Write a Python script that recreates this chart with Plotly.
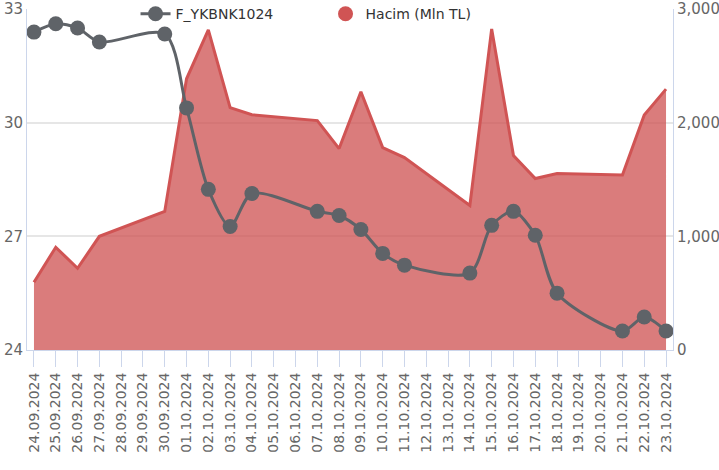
import plotly.graph_objects as go

dates = ["24.09.2024", "25.09.2024", "26.09.2024", "27.09.2024", "28.09.2024", "29.09.2024",
         "30.09.2024", "01.10.2024", "02.10.2024", "03.10.2024", "04.10.2024", "05.10.2024",
         "06.10.2024", "07.10.2024", "08.10.2024", "09.10.2024", "10.10.2024", "11.10.2024",
         "12.10.2024", "13.10.2024", "14.10.2024", "15.10.2024", "16.10.2024", "17.10.2024",
         "18.10.2024", "19.10.2024", "20.10.2024", "21.10.2024", "22.10.2024", "23.10.2024"]

price = [32.39, 32.61, 32.50, 32.13, None, None,
         32.34, 30.39, 28.24, 27.26, 28.13, None,
         None, 27.66, 27.55, 27.18, 26.55, 26.24,
         None, None, 26.03, 27.29, 27.66, 27.03,
         25.50, None, None, 24.50, 24.87, 24.50]

volume = [596, 904, 719, 1000, None, None,
          1219, 2386, 2816, 2132, 2070, None,
          None, 2018, 1772, 2272, 1781, 1693,
          None, None, 1272, 2825, 1711, 1509,
          1553, None, None, 1540, 2068, 2295]

price_name = "F_YKBNK1024"
volume_name = "Hacim (Mln TL)"

gray = "#5f6368"
red = "#d05454"
fill = "rgba(205,80,80,0.75)"
axis_blue = "#ccd6eb"
font = "DejaVu Sans"

fig = go.Figure()

fig.add_trace(go.Scatter(
    x=dates, y=volume, name=volume_name, yaxis="y", mode="lines",
    line=dict(color=red, width=3), fill="tozeroy", fillcolor=fill,
    connectgaps=True, showlegend=False, hoverinfo="skip"))

fig.add_trace(go.Scatter(
    x=dates, y=price, name=price_name, yaxis="y2", mode="lines+markers",
    line=dict(color=gray, width=3, shape="spline", smoothing=0.8),
    marker=dict(color=gray, size=15), connectgaps=True, legendrank=1))

fig.add_trace(go.Scatter(
    x=[None], y=[None], name=volume_name, yaxis="y", mode="markers",
    marker=dict(color=red, size=15), legendrank=2))

fig.update_layout(
    width=719, height=470,
    margin=dict(l=27, r=46, t=9, b=120, autoexpand=False),
    paper_bgcolor="white", plot_bgcolor="white",
    font=dict(family=font, size=14, color="#666666"),
    showlegend=True,
    legend=dict(orientation="h", x=0.168, xanchor="left", y=0.985, yanchor="middle",
                bgcolor="rgba(0,0,0,0)", font=dict(size=14, color="#333333"),
                entrywidth=145, traceorder="normal"),
    xaxis=dict(type="category", categoryorder="array", categoryarray=dates,
               range=[-0.32, 29.32], tickangle=-90, showgrid=False, automargin=False,
               showline=True, linecolor=axis_blue, linewidth=1,
               ticks="outside", ticklen=16, tickcolor=axis_blue, tickwidth=1,
               tickfont=dict(size=14, color="#666666"), zeroline=False,
               ticklabeloverflow="allow"),
    yaxis=dict(side="right", range=[0, 3000], tickvals=[0, 1000, 2000, 3000],
               ticktext=["0", "1,000", "2,000", "3,000"], automargin=False,
               showgrid=True, gridcolor="#e6e6e6", gridwidth=1.5,
               showline=True, linecolor=axis_blue, linewidth=1,
               ticks="", ticklabeloverflow="allow",
               tickfont=dict(size=15, color="#666666"), zeroline=False),
    yaxis2=dict(side="left", overlaying="y", range=[24, 33], tickvals=[24, 27, 30, 33],
                showgrid=False, showline=True, linecolor=axis_blue, linewidth=1,
                automargin=False, ticks="", ticklabeloverflow="allow",
                tickfont=dict(size=15, color="#666666"), zeroline=False),
)

fig.write_html("out.html", config={"displayModeBar": False},
               post_script="document.body.style.margin='0';document.body.style.overflow='hidden';")
